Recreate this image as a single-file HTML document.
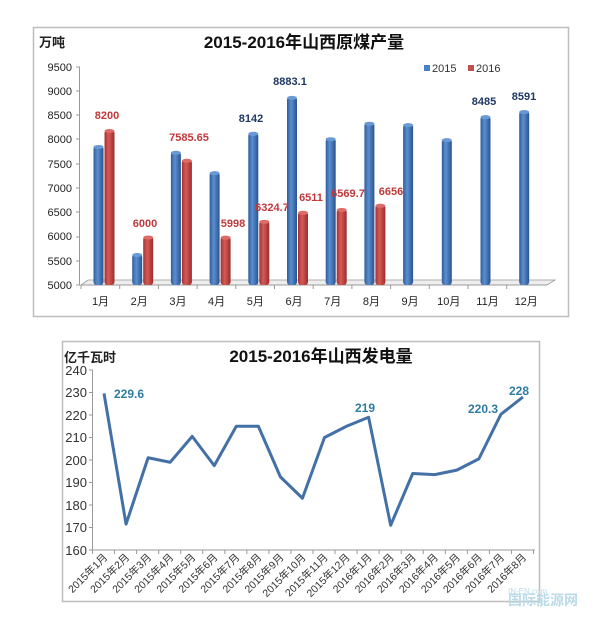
<!DOCTYPE html>
<html><head><meta charset="utf-8">
<style>
html,body{margin:0;padding:0;background:#fff;}
svg{display:block;}
text{font-family:"Liberation Sans","Noto Sans CJK SC",sans-serif;}
</style></head><body>
<svg width="600" height="625" viewBox="0 0 600 625" xmlns="http://www.w3.org/2000/svg">
<defs>
<linearGradient id="gb" x1="0" x2="1" y1="0" y2="0">
<stop offset="0" stop-color="#2f5c9a"/><stop offset="0.4" stop-color="#5b8fd0"/><stop offset="1" stop-color="#2a5390"/></linearGradient>
<linearGradient id="gr" x1="0" x2="1" y1="0" y2="0">
<stop offset="0" stop-color="#a33230"/><stop offset="0.4" stop-color="#d65a57"/><stop offset="1" stop-color="#9a2d2b"/></linearGradient>
</defs>
<!-- Chart 1 -->
<rect x="33.5" y="27.5" width="535" height="289" fill="#fff" stroke="#bdbdbd" stroke-width="1.5"/>
<text x="39" y="47" font-size="13" font-weight="bold" fill="#222">万吨</text>
<text x="304" y="48" font-size="17" font-weight="bold" text-anchor="middle" fill="#111">2015-2016年山西原煤产量</text>
<g font-size="11" fill="#222" text-anchor="end">
<text x="72" y="71">9500</text><text x="72" y="95">9000</text><text x="72" y="119">8500</text>
<text x="72" y="143">8000</text><text x="72" y="168">7500</text><text x="72" y="192">7000</text>
<text x="72" y="216">6500</text><text x="72" y="240">6000</text><text x="72" y="265">5500</text>
<text x="72" y="289">5000</text></g>
<path d="M79.5 67 V285 M76 67 H80 M76 91 H80 M76 115 H80 M76 139 H80 M76 164 H80 M76 188 H80 M76 212 H80 M76 237 H80 M76 261 H80 M76 285 H80" stroke="#999" fill="none"/>
<path d="M81 285 L88 280 L555 280 L547 285 Z" fill="#eee" stroke="#999" stroke-width="0.8"/>
<path d="M81 285 H547" stroke="#999"/>
<g id="bars"></g>
<g font-size="11" fill="#222" text-anchor="middle" id="xl1"></g>
<rect x="424" y="65" width="6" height="6" fill="#4a7fc0"/><text x="432" y="72" font-size="11" fill="#333">2015</text>
<rect x="468" y="65" width="6" height="6" fill="#c0504d"/><text x="476" y="72" font-size="11" fill="#333">2016</text>
<g font-size="11" font-weight="bold" text-anchor="middle" fill="#c0393b">
<text x="107" y="119">8200</text><text x="145" y="227">6000</text><text x="189" y="141">7585.65</text>
<text x="233" y="227">5998</text><text x="272" y="211">6324.7</text><text x="311" y="201">6511</text>
<text x="348" y="197">6569.7</text><text x="391" y="195">6656</text></g>
<g font-size="11" font-weight="bold" text-anchor="middle" fill="#1f3864">
<text x="251" y="122">8142</text><text x="290" y="85">8883.1</text><text x="484" y="105">8485</text><text x="524" y="100">8591</text></g>

<!-- Chart 2 -->
<rect x="62.5" y="341.5" width="477" height="260" fill="#fff" stroke="#bdbdbd" stroke-width="1.5"/>
<text x="64" y="362" font-size="13" font-weight="bold" fill="#222">亿千瓦时</text>
<text x="321" y="362" font-size="17" font-weight="bold" text-anchor="middle" fill="#111">2015-2016年山西发电量</text>
<g font-size="13" fill="#333" text-anchor="end">
<text x="87" y="375">240</text><text x="87" y="397">230</text><text x="87" y="420">220</text>
<text x="87" y="442">210</text><text x="87" y="465">200</text><text x="87" y="487">190</text>
<text x="87" y="510">180</text><text x="87" y="532">170</text><text x="87" y="555">160</text></g>
<path d="M92.5 370 V550 H535 M89 370 H93 M89 392.5 H93 M89 415 H93 M89 437.5 H93 M89 460 H93 M89 482.5 H93 M89 505 H93 M89 527.5 H93 M89 550 H93" stroke="#999" fill="none"/>
<g id="tk2"></g>
<polyline id="ln" fill="none" stroke="#4470a8" stroke-width="3" stroke-linejoin="round"/>
<g id="xl2" font-size="10.5" fill="#333" font-family="Liberation Serif,'Noto Serif CJK SC',serif"></g>
<g font-size="12" font-weight="bold" fill="#2e7ca0" text-anchor="middle">
<text x="129" y="398">229.6</text><text x="365" y="412">219</text><text x="483" y="413">220.3</text><text x="519" y="395">228</text></g>
<text x="508" y="605" font-size="14" font-weight="bold" fill="#b9dbe8">国际能源网</text>
<text x="508" y="594" font-size="8" fill="#b9dbe8">IN-EN.com</text>
</svg>
<script>
var NS="http://www.w3.org/2000/svg";
function el(t,a,p,txt){var e=document.createElementNS(NS,t);for(var k in a)e.setAttribute(k,a[k]);if(txt)e.textContent=txt;p.appendChild(e);return e;}
var b15=[7870,5640,7750,7330,8142,8883,8030,8350,8320,8010,8485,8591];
var b16=[8200,6000,7585.65,5998,6324.7,6511,6569.7,6656];
function y1(v){return 285-(v-5000)*218/4500;}
var g=document.getElementById('bars'),xl=document.getElementById('xl1');
for(var i=0;i<12;i++){var c=100.5+38.7*i;
 var y=y1(b15[i]);el('rect',{x:c-7,y:y,width:10,height:285-y,rx:3,fill:'url(#gb)'},g);
 el('ellipse',{cx:c-2,cy:y+1,rx:5,ry:2,fill:'#6a9ad6'},g);
 if(i<8){y=y1(b16[i]);el('rect',{x:c+4,y:y,width:10,height:285-y,rx:3,fill:'url(#gr)'},g);
 el('ellipse',{cx:c+9,cy:y+1,rx:5,ry:2,fill:'#dd6b68'},g);}
 el('text',{x:c,y:305},xl,(i+1)+'月');
 el('line',{x1:81+38.7*i,y1:285,x2:81+38.7*i,y2:289,stroke:'#999'},g);
}
var v=[229.6,171.5,201,199,210.5,197.5,215,215,192.5,183,210,215,219,171,194,193.5,195.5,200.5,220.3,228];
var pts=[],tk=document.getElementById('tk2'),x2=document.getElementById('xl2');
for(var i=0;i<20;i++){var x=104+22.05*i;pts.push(x+','+(550-(v[i]-160)*2.25));
 el('line',{x1:92.5+22.05*i,y1:550,x2:92.5+22.05*i,y2:554,stroke:'#999'},tk);
 var lab=(i<12?'2015年'+(i+1):'2016年'+(i-11))+'月';
 el('text',{x:x+4,y:558,'text-anchor':'end',transform:'rotate(-45 '+(x+4)+' 558)'},x2,lab);}
el('line',{x1:92.5+22.05*20,y1:550,x2:92.5+22.05*20,y2:554,stroke:'#999'},tk);
document.getElementById('ln').setAttribute('points',pts.join(' '));
</script>
</body></html>
